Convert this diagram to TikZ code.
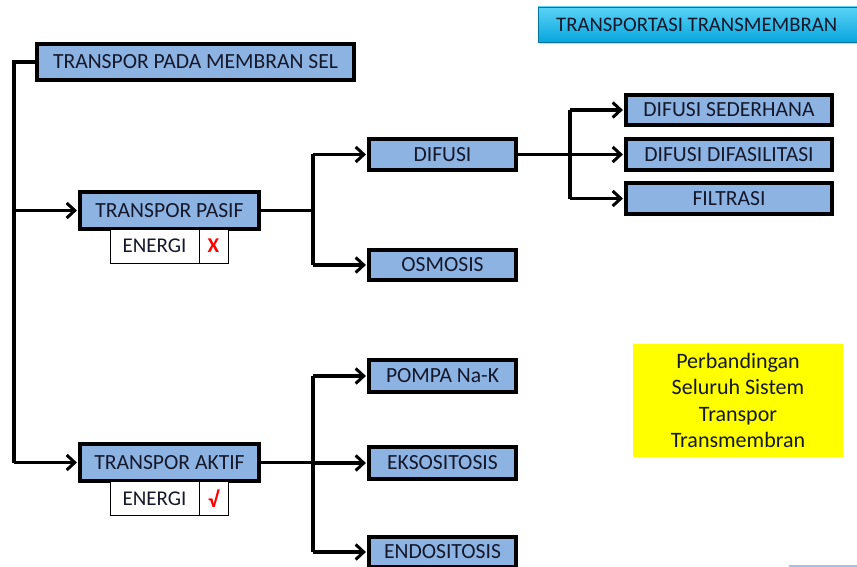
\documentclass[tikz,border=0pt]{standalone}
\usepackage{fontspec}
\setmainfont{Carlito}
\usetikzlibrary{arrows.meta,shadows}
\definecolor{boxblue}{HTML}{8DB3E2}
\definecolor{txt}{HTML}{15182A}
\definecolor{ttop}{HTML}{5AD2F6}
\definecolor{tbot}{HTML}{08A6DE}
\definecolor{yel}{RGB}{255,255,0}
\definecolor{sliver}{HTML}{9CC3EA}
\begin{document}
\begin{tikzpicture}[x=1pt,y=-1pt,
  bx/.style={draw=black,line width=3.2pt,fill=boxblue,inner sep=0pt,text=txt,font=\fontsize{21.6}{24}\selectfont},
  ebox/.style={draw=black,line width=0.7pt,fill=white,inner sep=0pt,minimum height=34,text=txt,font=\fontsize{21}{24}\selectfont},
  ln/.style={line width=3.4pt},
  ar/.style={ln,-{Straight Barb[length=8pt,width=15pt,line width=3pt]},shorten >=1.5pt}]
\useasboundingbox (0,0) rectangle (857,567);
% title
\shade[draw=tbot!70!black,line width=0.6pt,top color=ttop,bottom color=tbot,drop shadow={shadow xshift=1.5pt,shadow yshift=-2pt,opacity=0.35}]
  (538,7) rectangle (870,42);
\node[anchor=west,inner sep=0pt,text=txt,font=\fontsize{20.7}{24}\selectfont] (title) at (556,25) {TRANSPORTASI TRANSMEMBRAN};
% boxes
\node[bx,minimum width=317,minimum height=36] (m) at (195.5,62) {TRANSPOR PADA MEMBRAN SEL};
\node[bx,minimum width=179,minimum height=37] (pasif) at (169.5,210.5) {TRANSPOR PASIF};
\node[bx,minimum width=179,minimum height=37] (aktif) at (169.5,462.5) {TRANSPOR AKTIF};
\node[ebox,minimum width=89] (e1) at (154.5,246) {ENERGI};
\node[ebox,minimum width=29,text=red,font=\fontsize{21}{24}\selectfont\bfseries] (x1) at (213.5,246) {X};
\node[ebox,minimum width=89] (e2) at (154.5,498.5) {ENERGI};
\node[ebox,minimum width=29,text=red,font=\fontsize{22}{24}\selectfont\bfseries] (x2) at (213.5,498.5) {√};
\node[bx,minimum width=147,minimum height=31] (difusi) at (442.5,154.5) {DIFUSI};
\node[bx,minimum width=147,minimum height=30] (osmosis) at (442.5,265) {OSMOSIS};
\node[bx,minimum width=206,minimum height=30] (ds) at (729,110) {DIFUSI SEDERHANA};
\node[bx,minimum width=206,minimum height=31] (dd) at (729,154.5) {DIFUSI DIFASILITASI};
\node[bx,minimum width=206,minimum height=31] (fil) at (729,198.5) {FILTRASI};
\node[bx,minimum width=147,minimum height=32] (pompa) at (442.5,376) {POMPA Na-K};
\node[bx,minimum width=147,minimum height=32] (eks) at (442.5,463) {EKSOSITOSIS};
\node[bx,minimum width=147,minimum height=30] (endo) at (442.5,552) {ENDOSITOSIS};
% yellow
\node[fill=yel,minimum width=210,minimum height=113,inner sep=0pt,align=center,text=txt,
  font=\fontsize{22}{26.5}\selectfont] (note) at (738,400.5)
  {Perbandingan\\Seluruh Sistem\\Transpor\\Transmembran};
% sliver at bottom right
\fill[sliver] (789,565) rectangle (857,567);
% connectors
\draw[ln] (m.west) -- (14,62) coordinate (c1) -- (c1 |- aktif.west);
\draw[ar] (c1 |- pasif.west) -- (pasif.west);
\draw[ar] (c1 |- aktif.west) -- (aktif.west);
\draw[ln] (pasif.east) -- (313,210.5) coordinate (c2);
\draw[ln] (c2 |- difusi.west) -- (c2 |- osmosis.west);
\draw[ar] (c2 |- difusi.west) -- (difusi.west);
\draw[ar] (c2 |- osmosis.west) -- (osmosis.west);
\draw[ln] (difusi.east) -- (570,154.5) coordinate (c3);
\draw[ln] (c3 |- ds.west) -- (c3 |- fil.west);
\draw[ar] (c3 |- ds.west) -- (ds.west);
\draw[ar] (c3 |- dd.west) -- (dd.west);
\draw[ar] (c3 |- fil.west) -- (fil.west);
\draw[ln] (aktif.east) -- (313,462.5) coordinate (c4);
\draw[ln] (c4 |- pompa.west) -- (c4 |- endo.west);
\draw[ar] (c4 |- pompa.west) -- (pompa.west);
\draw[ar] (c4 |- eks.west) -- (eks.west);
\draw[ar] (c4 |- endo.west) -- (endo.west);
\end{tikzpicture}
\end{document}
